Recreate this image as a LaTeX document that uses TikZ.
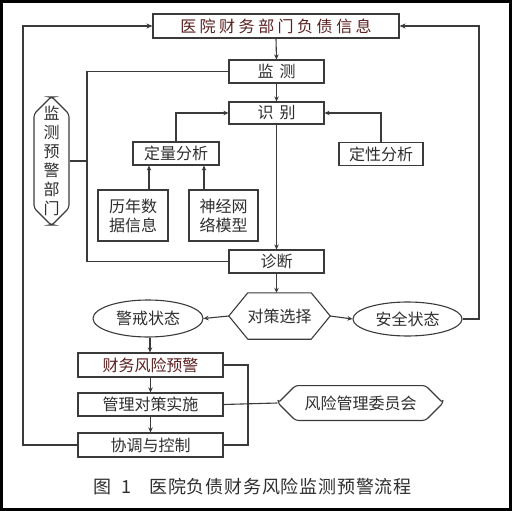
\documentclass[tikz,border=0pt]{standalone}
\usepackage{fontspec}
\setmainfont{Noto Sans CJK SC}
\usetikzlibrary{shapes.misc,shapes.geometric,arrows.meta}
\definecolor{ln}{HTML}{3A3A3A}
\definecolor{txt}{HTML}{2E2E2E}
\definecolor{redtxt}{HTML}{5A1E1E}
\newcommand\lsp{\hspace{3.5pt}}
\newcommand\wsp{\hspace{6pt}}
\newcommand\csp{\hspace{0.8pt}}
\begin{document}
\begin{tikzpicture}[x=1pt,y=-1pt,
  every node/.style={font=\fontsize{16}{19}\selectfont, text=txt, inner sep=0pt},
  box/.style={draw=ln, line width=1.1pt},
  conn/.style={draw=ln, line width=1.1pt},
  arr/.style={conn, -{Stealth[length=5pt,width=4.5pt]}},
  loopline/.style={draw=ln, line width=2pt},
  looparr/.style={loopline, -{Stealth[length=6pt,width=5pt]}},
  chamf/.style={box, chamfered rectangle, chamfered rectangle xsep=#1, chamfered rectangle ysep=#1, rounded corners=3pt}
]
\useasboundingbox (0,0) rectangle (512,511);
\draw[black, line width=2.5pt] (1.5,1.5) rectangle (510.5,509.5);

% nodes
\node[box, minimum width=246, minimum height=24, text=redtxt] (top) at (276,26) {医\lsp 院\lsp 财\lsp 务\lsp 部\lsp 门\lsp 负\lsp 债\lsp 信\lsp 息};
\node[box, minimum width=95, minimum height=23] (jc) at (276.5,71.5) {监\wsp 测};
\node[box, minimum width=95, minimum height=22] (sb) at (276.5,113) {识\wsp 别};
\node[box, minimum width=86, minimum height=23] (dl) at (176,153.5) {定量分析};
\node[box, minimum width=84, minimum height=23] (dx) at (381,154) {定性分析};
\node[box, minimum width=70, minimum height=51, align=center] (ln) at (133,215.5) {历年数\\据信息};
\node[box, minimum width=69, minimum height=51, align=center] (sj) at (223.5,215.5) {神经网\\络模型};
\node[chamf=9pt, minimum width=35, minimum height=128, align=center] (bm) at (51.5,161) {监\\测\\预\\警\\部\\门};
\node[box, minimum width=95, minimum height=23] (zd) at (276.5,261.5) {诊断};
\node[minimum width=101, minimum height=46] (dc) at (279.5,316) {对策选择};
\draw[conn] (dc.west) -- ([xshift=19]dc.north west) -- ([xshift=-19]dc.north east) -- (dc.east) -- ([xshift=-19]dc.south east) -- ([xshift=19]dc.south west) -- cycle;
\node[box, ellipse, minimum width=110, minimum height=37] (jj) at (148,318.5) {警戒状态};
\node[box, ellipse, minimum width=109, minimum height=34] (aq) at (407.5,319) {安全状态};
\node[box, minimum width=145, minimum height=24, text=redtxt] (cw) at (150.5,365) {财务风险预警};
\node[box, minimum width=145, minimum height=23] (gl) at (150.5,404.5) {管理对策实施};
\node[box, minimum width=145, minimum height=24] (xt) at (150.5,445) {协调与控制};
\node[box, chamfered rectangle, chamfered rectangle xsep=9pt, chamfered rectangle ysep=10pt, rounded corners=3pt, minimum width=165, minimum height=30] (wy) at (360.5,403) {风险管理委员会};
\node[font=\fontsize{18}{20}\selectfont, text=txt] (cap) at (252.5,487) {图\hspace{10pt}1\hspace{18pt}医\csp 院\csp 负\csp 债\csp 财\csp 务\csp 风\csp 险\csp 监\csp 测\csp 预\csp 警\csp 流\csp 程};

% helper coordinates
\coordinate (L) at (23,26);
\coordinate (R) at (479,26);
\coordinate (M) at (87,0);
\coordinate (B) at (248,0);

% main flow
\draw[arr] (top.south) -- (jc.north);
\draw[arr] (jc.south) -- (sb.north);
\draw[arr] (sb.south) -- (zd.north);
\draw[arr] (zd.south) -- ([xshift=-3]dc.north);
\draw[arr] (dl.north) |- (sb.west);
\draw[arr] (dx.north) |- (sb.east);
\draw[arr] ([xshift=16]ln.north) -- ([xshift=16]ln.north |- dl.south);
\draw[arr] ([xshift=-19.5]sj.north) -- ([xshift=-19.5]sj.north |- dl.south);
\draw[arr] (dc.west) -- (jj.east);
\draw[arr] (dc.east) -- (aq.west);
\draw[arr] ([xshift=2]jj.south) -- ([xshift=-0.5]cw.north);
\draw[arr] (cw.south) -- (gl.north);
\draw[arr] (gl.south) -- (xt.north);

% monitoring department bracket
\draw[conn] (jc.west) -- (jc.west -| M) -- (zd.west -| M) -- (zd.west);
\draw[conn] (bm.east) -- (bm.east -| M);

% right bracket and committee
\draw[conn] (cw.east) -- (cw.east -| B) |- (xt.east);
\draw[conn] (gl.east) -- (wy.west);

% feedback loops
\draw[looparr] (xt.west) -| (L) -- (top.west);
\draw[looparr] (aq.east) -| (R) -- (top.east);
\end{tikzpicture}
\end{document}
